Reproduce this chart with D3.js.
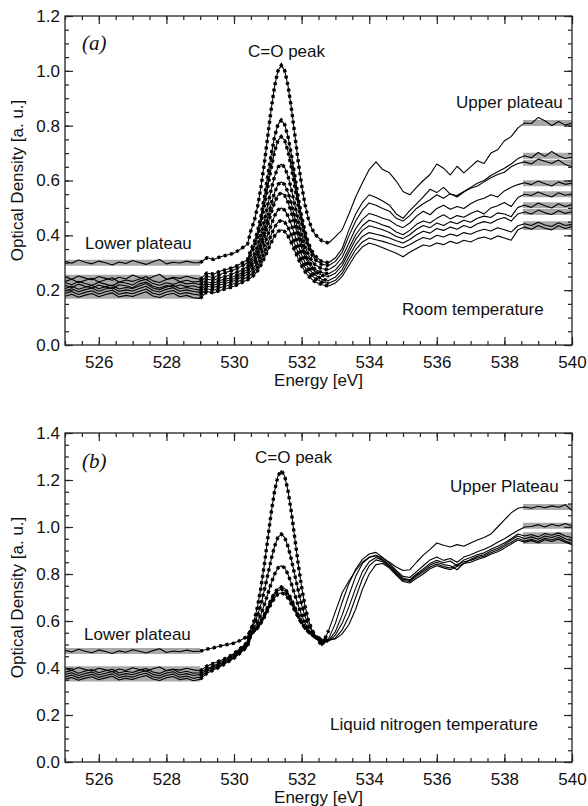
<!DOCTYPE html>
<html lang="en">
<head>
<meta charset="UTF-8">
<title>O K-edge spectra</title>
<script src="https://d3js.org/d3.v7.min.js"></script>
<style>
  body { margin: 0; background: #fff; }
  svg { display: block; font-family: "Liberation Sans", Arial, sans-serif; }
</style>
</head>
<body>
<div id="chart"></div>
<script>
// energy grid shared by all spectra [eV]
const energy = [
  525.0,525.2,525.4,525.6,525.8,526.0,526.2,526.4,526.6,526.8,527.0,527.2,527.4,527.6,527.8,528.0,528.2,528.4,528.6,528.8,
  529.0,529.2,529.4,529.6,529.8,530.0,530.2,530.4,
  530.5,530.6,530.7,530.8,530.9,531.0,531.1,531.2,531.3,531.4,531.5,531.6,531.7,531.8,531.9,532.0,532.1,532.2,532.3,532.4,
  532.6,532.8,533.0,533.2,533.4,533.6,533.8,534.0,534.2,534.4,534.6,534.8,535.0,535.2,535.4,535.6,535.8,536.0,536.2,536.4,
  536.6,536.8,537.0,537.2,537.4,537.6,537.8,538.0,538.2,538.4,538.6,538.8,539.0,539.2,539.4,539.6,539.8,540.0
];

// (a) room temperature
const roomA1 = [.305,.298,.310,.302,.296,.306,.300,.292,.303,.297,.308,.301,.294,.304,.312,.296,.302,.299,.306,.300,
  .300,.318,.312,.322,.328,.335,.350,.368,
  .417,.453,.506,.578,.665,.762,.860,.943,1.000,1.020,1.001,.944,.862,.766,.669,.583,.513,.460,.425,.403,
  .380,.372,.395,.420,.478,.540,.592,.640,.668,.640,.628,.598,.560,.548,.575,.600,.622,.660,.645,.620,
  .652,.628,.650,.672,.662,.700,.712,.745,.760,.792,.810,.808,.830,.818,.800,.815,.802,.810];
const roomA2 = [.248,.240,.252,.244,.238,.250,.243,.236,.247,.241,.255,.246,.238,.249,.258,.240,.247,.243,.251,.244,
  .240,.262,.258,.270,.276,.284,.296,.312,
  .346,.375,.416,.472,.541,.618,.694,.759,.804,.820,.804,.759,.693,.617,.539,.470,.414,.373,.344,.325,
  .304,.300,.318,.352,.420,.478,.520,.548,.538,.525,.510,.478,.462,.490,.515,.540,.568,.556,.575,.550,
  .545,.560,.575,.590,.600,.618,.632,.645,.660,.680,.690,.683,.702,.688,.706,.690,.680,.685];
const roomA3 = [.232,.240,.228,.236,.243,.230,.238,.245,.229,.237,.232,.241,.250,.234,.228,.239,.244,.231,.236,.230,
  .232,.250,.246,.258,.266,.274,.286,.300,
  .332,.358,.395,.446,.508,.577,.646,.705,.746,.760,.746,.705,.646,.577,.507,.445,.393,.356,.330,.312,
  .294,.290,.305,.338,.398,.452,.492,.518,.510,.498,.488,.462,.452,.472,.498,.515,.530,.548,.535,.552,
  .540,.558,.572,.580,.595,.610,.622,.630,.650,.662,.668,.660,.678,.670,.662,.675,.658,.650];
const roomA4 = [.228,.220,.232,.224,.218,.229,.222,.215,.230,.226,.219,.233,.240,.224,.218,.227,.221,.230,.223,.226,
  .220,.240,.236,.246,.252,.262,.272,.286,
  .310,.331,.362,.404,.454,.511,.567,.615,.648,.660,.648,.615,.567,.510,.453,.402,.360,.329,.308,.293,
  .278,.275,.290,.320,.372,.425,.458,.480,.472,.462,.455,.438,.428,.445,.470,.488,.475,.498,.510,.495,
  .505,.498,.515,.528,.535,.548,.540,.562,.575,.585,.592,.585,.598,.588,.580,.595,.586,.590];
const roomA5 = [.218,.210,.222,.214,.208,.219,.212,.205,.220,.216,.209,.223,.230,.214,.208,.217,.211,.220,.213,.216,
  .208,.230,.226,.236,.242,.250,.262,.275,
  .294,.312,.339,.374,.418,.466,.515,.556,.585,.595,.585,.556,.514,.465,.416,.372,.336,.308,.290,.276,
  .264,.260,.274,.302,.352,.402,.435,.455,.448,.438,.430,.412,.402,.418,.440,.452,.445,.462,.475,.460,
  .472,.466,.480,.490,.478,.500,.508,.520,.505,.538,.550,.545,.558,.548,.540,.555,.546,.552];
const roomA6 = [.206,.214,.203,.211,.217,.205,.213,.219,.204,.210,.206,.215,.224,.208,.202,.212,.218,.205,.210,.204,
  .200,.222,.218,.228,.234,.242,.254,.266,
  .284,.300,.324,.356,.395,.439,.483,.520,.546,.555,.546,.520,.482,.438,.394,.354,.322,.297,.280,.267,
  .254,.250,.262,.290,.338,.385,.418,.435,.428,.420,.410,.396,.388,.402,.422,.436,.428,.445,.436,.450,
  .442,.455,.448,.462,.470,.465,.482,.478,.468,.502,.510,.502,.518,.508,.500,.515,.505,.512];
const roomA7 = [.198,.205,.194,.202,.208,.196,.204,.210,.195,.201,.197,.206,.214,.199,.193,.203,.209,.196,.201,.195,
  .192,.214,.210,.220,.226,.234,.246,.258,
  .270,.284,.304,.331,.365,.402,.439,.471,.492,.500,.492,.470,.438,.400,.363,.329,.301,.281,.266,.255,
  .240,.235,.248,.275,.322,.366,.396,.410,.404,.398,.390,.380,.372,.385,.402,.415,.408,.425,.418,.430,
  .422,.436,.428,.442,.450,.444,.458,.465,.452,.478,.485,.478,.492,.482,.476,.490,.480,.486];
const roomA8 = [.188,.195,.184,.192,.198,.186,.194,.200,.185,.191,.187,.196,.204,.189,.183,.193,.199,.186,.191,.185,
  .182,.205,.200,.210,.216,.224,.236,.248,
  .257,.269,.286,.310,.338,.370,.402,.430,.448,.455,.448,.429,.401,.368,.336,.307,.283,.266,.253,.243,
  .230,.225,.236,.262,.306,.348,.376,.390,.384,.378,.370,.362,.355,.366,.380,.392,.386,.400,.394,.405,
  .398,.410,.404,.415,.422,.416,.428,.420,.412,.435,.442,.436,.448,.438,.432,.446,.436,.440];
const roomA9 = [.178,.185,.174,.182,.188,.176,.184,.190,.175,.181,.177,.186,.194,.179,.173,.183,.189,.176,.181,.172,
  .170,.195,.190,.200,.206,.214,.226,.238,
  .245,.256,.271,.292,.317,.345,.373,.398,.414,.420,.414,.397,.372,.343,.315,.289,.268,.252,.240,.231,
  .220,.215,.226,.250,.290,.330,.358,.372,.365,.355,.345,.335,.322,.338,.352,.365,.360,.372,.366,.378,
  .370,.382,.376,.388,.394,.386,.398,.390,.382,.420,.430,.422,.436,.426,.420,.435,.425,.432];
const roomLower = [.300,.245,.235,.225,.215,.210,.200,.190,.180];
const roomUpper = [.810,.690,.665,.590,.550,.510,.485,.440,.430];

// (b) liquid nitrogen temperature
const lnB1 = [.475,.468,.480,.471,.465,.477,.470,.462,.473,.467,.478,.471,.464,.474,.482,.466,.472,.469,.476,.470,
  .472,.480,.486,.494,.500,.506,.518,.535,
  .564,.604,.664,.744,.842,.951,1.060,1.153,1.217,1.240,1.217,1.153,1.060,.951,.842,.744,.664,.604,.564,.537,
  .495,.560,.640,.720,.770,.815,.850,.872,.880,.868,.850,.830,.815,.818,.850,.880,.905,.932,.922,.915,
  .925,.918,.932,.945,.955,.970,1.000,1.030,1.060,1.080,1.085,1.080,1.088,1.082,1.090,1.084,1.095,1.070];
const lnB2 = [.398,.390,.402,.393,.387,.399,.392,.384,.396,.389,.401,.394,.386,.397,.404,.388,.395,.391,.399,.392,
  .388,.408,.420,.432,.444,.462,.485,.510,
  .565,.589,.625,.673,.732,.797,.862,.918,.956,.970,.956,.916,.860,.795,.730,.670,.620,.584,.560,.540,
  .505,.525,.590,.680,.760,.820,.862,.885,.892,.870,.845,.815,.790,.785,.810,.835,.860,.872,.858,.866,
  .850,.872,.882,.895,.905,.918,.935,.950,.968,.985,1.000,1.002,1.010,1.000,1.012,1.004,1.015,1.005];
const lnB3 = [.382,.390,.378,.387,.393,.380,.388,.395,.379,.386,.381,.391,.398,.383,.377,.389,.394,.380,.386,.378,
  .380,.398,.410,.424,.438,.456,.480,.505,
  .554,.571,.596,.629,.670,.715,.760,.799,.826,.835,.826,.798,.758,.712,.667,.625,.592,.566,.548,.532,
  .510,.518,.555,.625,.710,.790,.845,.870,.878,.862,.838,.810,.782,.775,.800,.822,.845,.858,.848,.855,
  .835,.860,.870,.882,.890,.905,.918,.932,.950,.970,.962,.968,.958,.972,.965,.975,.962,.955];
const lnB4 = [.372,.380,.368,.377,.383,.370,.378,.385,.369,.376,.371,.381,.388,.373,.367,.379,.384,.370,.376,.368,
  .372,.392,.404,.418,.432,.450,.474,.500,
  .547,.559,.576,.600,.628,.660,.692,.720,.738,.745,.738,.719,.691,.658,.625,.596,.572,.555,.542,.532,
  .512,.515,.540,.590,.660,.740,.810,.852,.870,.858,.835,.805,.778,.772,.795,.815,.838,.850,.840,.835,
  .818,.845,.862,.875,.882,.898,.910,.925,.945,.962,.950,.958,.948,.962,.955,.965,.950,.940];
const lnB5 = [.362,.370,.358,.367,.373,.360,.368,.375,.359,.366,.361,.371,.378,.363,.357,.369,.374,.360,.366,.356,
  .362,.385,.398,.412,.428,.446,.470,.496,
  .546,.558,.574,.597,.624,.654,.685,.711,.729,.735,.729,.710,.684,.652,.621,.593,.570,.554,.542,.533,
  .518,.516,.528,.562,.620,.700,.780,.835,.860,.852,.830,.800,.772,.768,.790,.808,.830,.842,.832,.825,
  .840,.852,.858,.868,.876,.890,.902,.918,.935,.952,.940,.948,.938,.952,.945,.955,.940,.930];
const lnB6 = [.352,.360,.348,.357,.363,.350,.358,.365,.349,.356,.351,.361,.368,.353,.347,.359,.364,.350,.356,.346,
  .352,.378,.392,.406,.424,.442,.466,.492,
  .545,.556,.571,.592,.617,.645,.673,.698,.714,.720,.714,.697,.672,.644,.616,.591,.570,.555,.544,.536,
  .522,.520,.524,.545,.585,.650,.735,.800,.840,.845,.825,.795,.768,.762,.782,.800,.822,.835,.826,.818,
  .832,.845,.850,.862,.870,.884,.895,.910,.928,.945,.935,.942,.932,.946,.938,.948,.935,.925];
const lnLower = [.472,.395,.385,.375,.365,.355];
const lnUpper = [1.085,1.005,.965,.955,.945,.940];

const xTicks = [526, 528, 530, 532, 534, 536, 538, 540];
const roomYTicks = [0, 0.2, 0.4, 0.6, 0.8, 1.0, 1.2];
const lnYTicks = [0, 0.2, 0.4, 0.6, 0.8, 1.0, 1.2, 1.4];

const lowerSpan = [525, 529];
const upperSpan = [538.55, 540];
const fitSpan = [529, 532.8];

const W = 588, H = 806;
const left = 65, right = 572;

const svg = d3.select("#chart").append("svg")
  .attr("width", W).attr("height", H);

const panels = [
  {
    spectra: [roomA1, roomA2, roomA3, roomA4, roomA5, roomA6, roomA7, roomA8, roomA9],
    lower: roomLower, upper: roomUpper, yTicks: roomYTicks, yMax: 1.2,
    top: 16, bottom: 345, tag: "(a)", tagY: 50,
    notes: [
      { text: "C=O peak", x: 248, y: 57 },
      { text: "Upper plateau", x: 456, y: 108 },
      { text: "Lower plateau", x: 85, y: 249 },
      { text: "Room temperature", x: 402, y: 315 }
    ]
  },
  {
    spectra: [lnB1, lnB2, lnB3, lnB4, lnB5, lnB6],
    lower: lnLower, upper: lnUpper, yTicks: lnYTicks, yMax: 1.4,
    top: 433, bottom: 762, tag: "(b)", tagY: 468,
    notes: [
      { text: "C=O peak", x: 255, y: 463 },
      { text: "Upper Plateau", x: 450, y: 492 },
      { text: "Lower plateau", x: 84, y: 640 },
      { text: "Liquid nitrogen temperature", x: 330, y: 730 }
    ]
  }
];

function drawPanel(p, k) {
  const x = d3.scaleLinear().domain([525, 540]).range([left, right]);
  const y = d3.scaleLinear().domain([0, p.yMax]).range([p.bottom, p.top]);
  const g = svg.append("g");

  g.append("clipPath").attr("id", "clip" + k)
    .append("rect")
    .attr("x", left).attr("y", p.top)
    .attr("width", right - left).attr("height", p.bottom - p.top);

  const plot = g.append("g").attr("clip-path", `url(#clip${k})`);

  // grey plateau bands
  const seg = d3.line().x(d => x(d[0])).y(d => y(d[1]));
  p.lower.forEach(v => {
    plot.append("path")
      .attr("d", seg([[lowerSpan[0], v], [lowerSpan[1], v]]))
      .attr("stroke", "#a9a9a9").attr("stroke-width", 6).attr("fill", "none");
  });
  p.upper.forEach(v => {
    plot.append("path")
      .attr("d", seg([[upperSpan[0], v], [upperSpan[1], v]]))
      .attr("stroke", "#a9a9a9").attr("stroke-width", 6).attr("fill", "none");
  });

  // spectra
  const line = d3.line()
    .x((d, i) => x(energy[i]))
    .y(d => y(d));
  p.spectra.forEach(s => {
    plot.append("path")
      .attr("d", line(s))
      .attr("fill", "none").attr("stroke", "#000").attr("stroke-width", 1.1)
      .attr("stroke-linejoin", "round");
  });

  // dotted peak fits
  const fit = d3.line()
    .defined((d, i) => energy[i] >= fitSpan[0] && energy[i] <= fitSpan[1])
    .x((d, i) => x(energy[i]))
    .y(d => y(d));
  p.spectra.forEach(s => {
    plot.append("path")
      .attr("d", fit(s))
      .attr("fill", "none").attr("stroke", "#000").attr("stroke-width", 3.4)
      .attr("stroke-dasharray", "3,3.5");
  });

  // axes, ticks pointing inward on all four sides
  const xMinor = d3.range(525, 540.01, 0.5);
  const yMinor = d3.range(0, p.yMax + 0.001, 0.05);
  const style = sel => {
    sel.select(".domain").remove();
    sel.selectAll("line").attr("stroke", "#222").attr("stroke-width", 1.2);
    sel.selectAll("text").attr("font-size", 17).attr("fill", "#111")
      .attr("font-family", "'Liberation Sans', Arial, sans-serif");
  };

  g.append("g").attr("transform", `translate(0,${p.bottom})`)
    .call(d3.axisBottom(x).tickValues(xMinor).tickSize(-4).tickFormat("")).call(style);
  g.append("g").attr("transform", `translate(0,${p.bottom})`)
    .call(d3.axisBottom(x).tickValues(xTicks).tickSize(-8).tickPadding(11).tickFormat(d3.format("d"))).call(style);
  g.append("g").attr("transform", `translate(0,${p.top})`)
    .call(d3.axisTop(x).tickValues(xMinor).tickSize(-4).tickFormat("")).call(style);
  g.append("g").attr("transform", `translate(0,${p.top})`)
    .call(d3.axisTop(x).tickValues(xTicks).tickSize(-8).tickFormat("")).call(style);

  g.append("g").attr("transform", `translate(${left},0)`)
    .call(d3.axisLeft(y).tickValues(yMinor).tickSize(-4).tickFormat("")).call(style);
  g.append("g").attr("transform", `translate(${left},0)`)
    .call(d3.axisLeft(y).tickValues(p.yTicks).tickSize(-8).tickPadding(5).tickFormat(d3.format(".1f"))).call(style);
  g.append("g").attr("transform", `translate(${right},0)`)
    .call(d3.axisRight(y).tickValues(yMinor).tickSize(-4).tickFormat("")).call(style);
  g.append("g").attr("transform", `translate(${right},0)`)
    .call(d3.axisRight(y).tickValues(p.yTicks).tickSize(-8).tickFormat("")).call(style);

  g.append("rect")
    .attr("x", left).attr("y", p.top)
    .attr("width", right - left).attr("height", p.bottom - p.top)
    .attr("fill", "none").attr("stroke", "#222").attr("stroke-width", 1.3);

  // titles
  g.append("text")
    .attr("x", (left + right) / 2).attr("y", p.bottom + 41)
    .attr("text-anchor", "middle").attr("font-size", 17).attr("fill", "#111")
    .text("Energy [eV]");
  g.append("text")
    .attr("transform", `translate(23,${(p.top + p.bottom) / 2}) rotate(-90)`)
    .attr("text-anchor", "middle").attr("font-size", 17).attr("fill", "#111")
    .text("Optical Density [a. u.]");

  g.append("text")
    .attr("x", 82).attr("y", p.tagY)
    .attr("font-family", "'Liberation Serif', 'Times New Roman', serif")
    .attr("font-style", "italic").attr("font-size", 21).attr("fill", "#111")
    .text(p.tag);

  p.notes.forEach(n => {
    g.append("text")
      .attr("x", n.x).attr("y", n.y)
      .attr("font-size", 17).attr("fill", "#111")
      .text(n.text);
  });
}

panels.forEach(drawPanel);
</script>
</body>
</html>
